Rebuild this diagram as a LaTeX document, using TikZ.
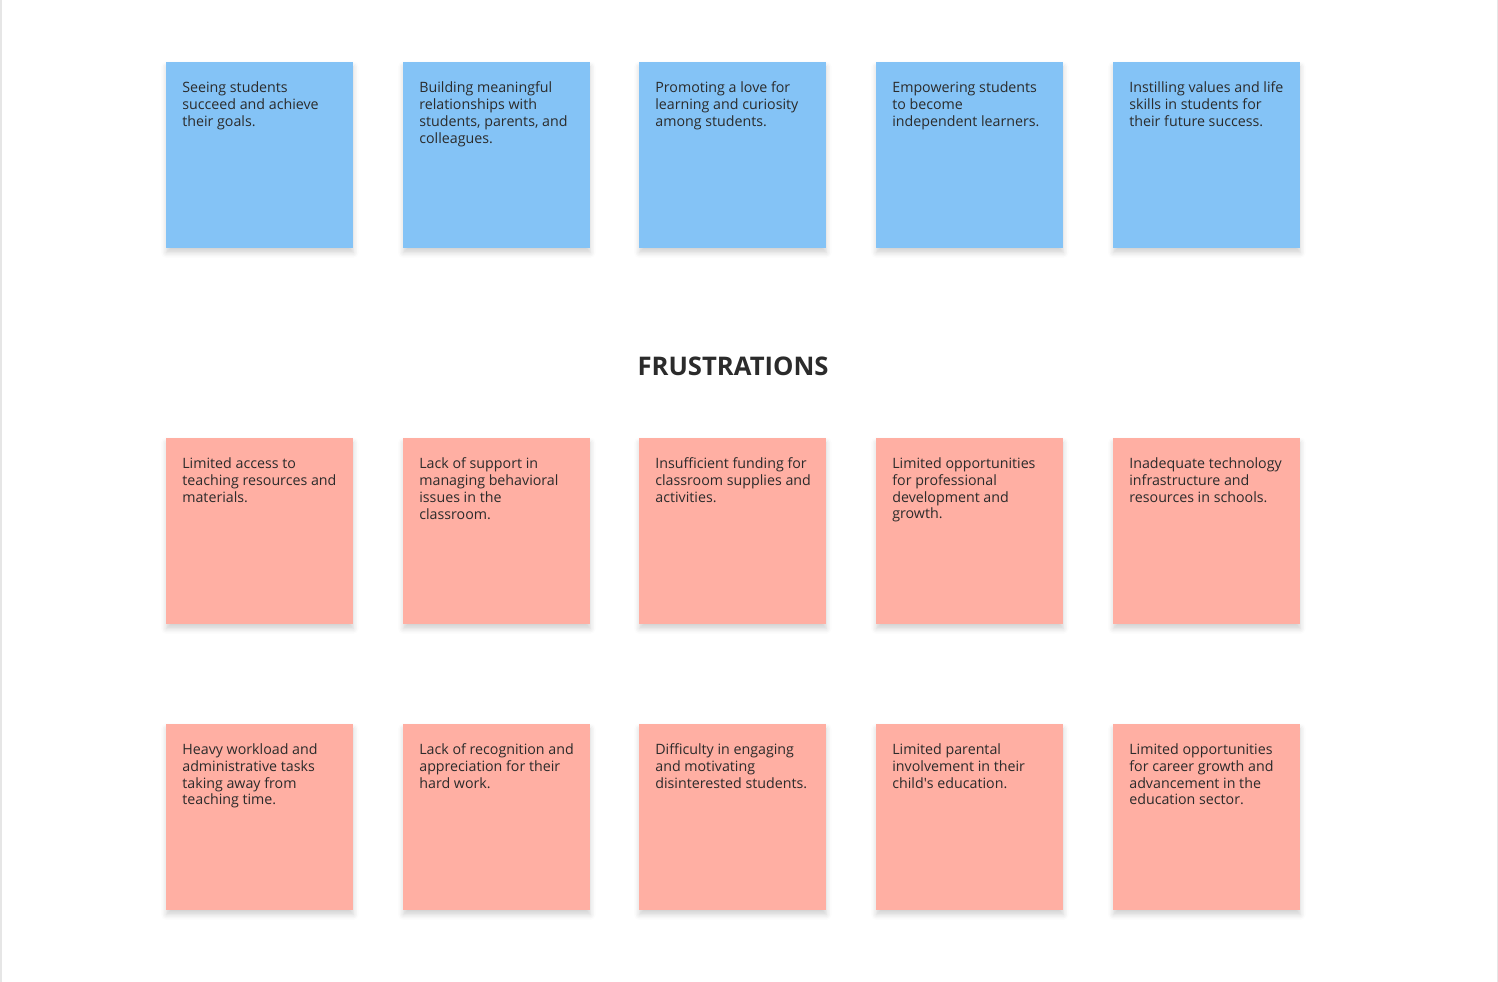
\documentclass[tikz,border=0pt]{standalone}
\usepackage{fontspec}
\setmainfont{Open Sans}
\usepackage{xcolor}
\usetikzlibrary{positioning, shadows.blur}
\definecolor{ink}{HTML}{2B2B2B}
\definecolor{edge}{HTML}{E6E6E6}
\definecolor{skyblue}{HTML}{84C3F6}
\definecolor{salmon}{HTML}{FFAFA3}
\tikzset{
  font=\fontsize{8.1pt}{9.64pt}\selectfont,
  %
  sticky/.style={
    draw=none, anchor=north west, minimum width=3.74cm, minimum height=3.72cm,
    inner sep=0pt,
    blur shadow={shadow xshift=0pt, shadow yshift=-2.5pt,
                 shadow blur radius=3pt, shadow opacity=18},
  },
  motiv/.style={sticky, fill=skyblue},
  frust/.style={sticky, fill=salmon},
  %
  stxt/.style={anchor=north west, inner sep=0pt, align=left, text=ink,
               xshift=0.32cm, yshift=-0.38cm},
  heading/.style={font=\fontsize{14.6pt}{17pt}\selectfont\bfseries, text=ink},
}
\begin{document}
\begin{tikzpicture}[x=0.02cm, y=-0.02cm]
\useasboundingbox (0,0) rectangle (1498,982);
\fill[edge] (0,0) rectangle (2.5,982);
\fill[edge] (1496.5,0) rectangle (1498,982);

% =========================================================================
% TOP ROW: motivations
% =========================================================================
\node[motiv] (m1) at (166,62) {};
\node[stxt] (m1t) at (m1.north west) {Seeing students\\succeed and achieve\\their goals.};
\node[motiv] (m2) at (403,62) {};
\node[stxt] (m2t) at (m2.north west) {Building meaningful\\relationships with\\students, parents, and\\colleagues.};
\node[motiv] (m3) at (639,62) {};
\node[stxt] (m3t) at (m3.north west) {Promoting a love for\\learning and curiosity\\among students.};
\node[motiv] (m4) at (876,62) {};
\node[stxt] (m4t) at (m4.north west) {Empowering students\\to become\\independent learners.};
\node[motiv] (m5) at (1113,62) {};
\node[stxt] (m5t) at (m5.north west) {Instilling values and life\\skills in students for\\their future success.};

% =========================================================================
% FRUSTRATIONS
% =========================================================================
\node[heading] (head) at (733,366) {FRUSTRATIONS};

\node[frust] (f1) at (166,438) {};
\node[stxt] (f1t) at (f1.north west) {Limited access to\\teaching resources and\\materials.};
\node[frust] (f2) at (403,438) {};
\node[stxt] (f2t) at (f2.north west) {Lack of support in\\managing behavioral\\issues in the\\classroom.};
\node[frust] (f3) at (639,438) {};
\node[stxt] (f3t) at (f3.north west) {Insufficient funding for\\classroom supplies and\\activities.};
\node[frust] (f4) at (876,438) {};
\node[stxt] (f4t) at (f4.north west) {Limited opportunities\\for professional\\development and\\growth.};
\node[frust] (f5) at (1113,438) {};
\node[stxt] (f5t) at (f5.north west) {Inadequate technology\\infrastructure and\\resources in schools.};

\node[frust] (f6) at (166,724) {};
\node[stxt] (f6t) at (f6.north west) {Heavy workload and\\administrative tasks\\taking away from\\teaching time.};
\node[frust] (f7) at (403,724) {};
\node[stxt] (f7t) at (f7.north west) {Lack of recognition and\\appreciation for their\\hard work.};
\node[frust] (f8) at (639,724) {};
\node[stxt] (f8t) at (f8.north west) {Difficulty in engaging\\and motivating\\disinterested students.};
\node[frust] (f9) at (876,724) {};
\node[stxt] (f9t) at (f9.north west) {Limited parental\\involvement in their\\child\textquotesingle s education.};
\node[frust] (f10) at (1113,724) {};
\node[stxt] (f10t) at (f10.north west) {Limited opportunities\\for career growth and\\advancement in the\\education sector.};

\end{tikzpicture}
\end{document}
